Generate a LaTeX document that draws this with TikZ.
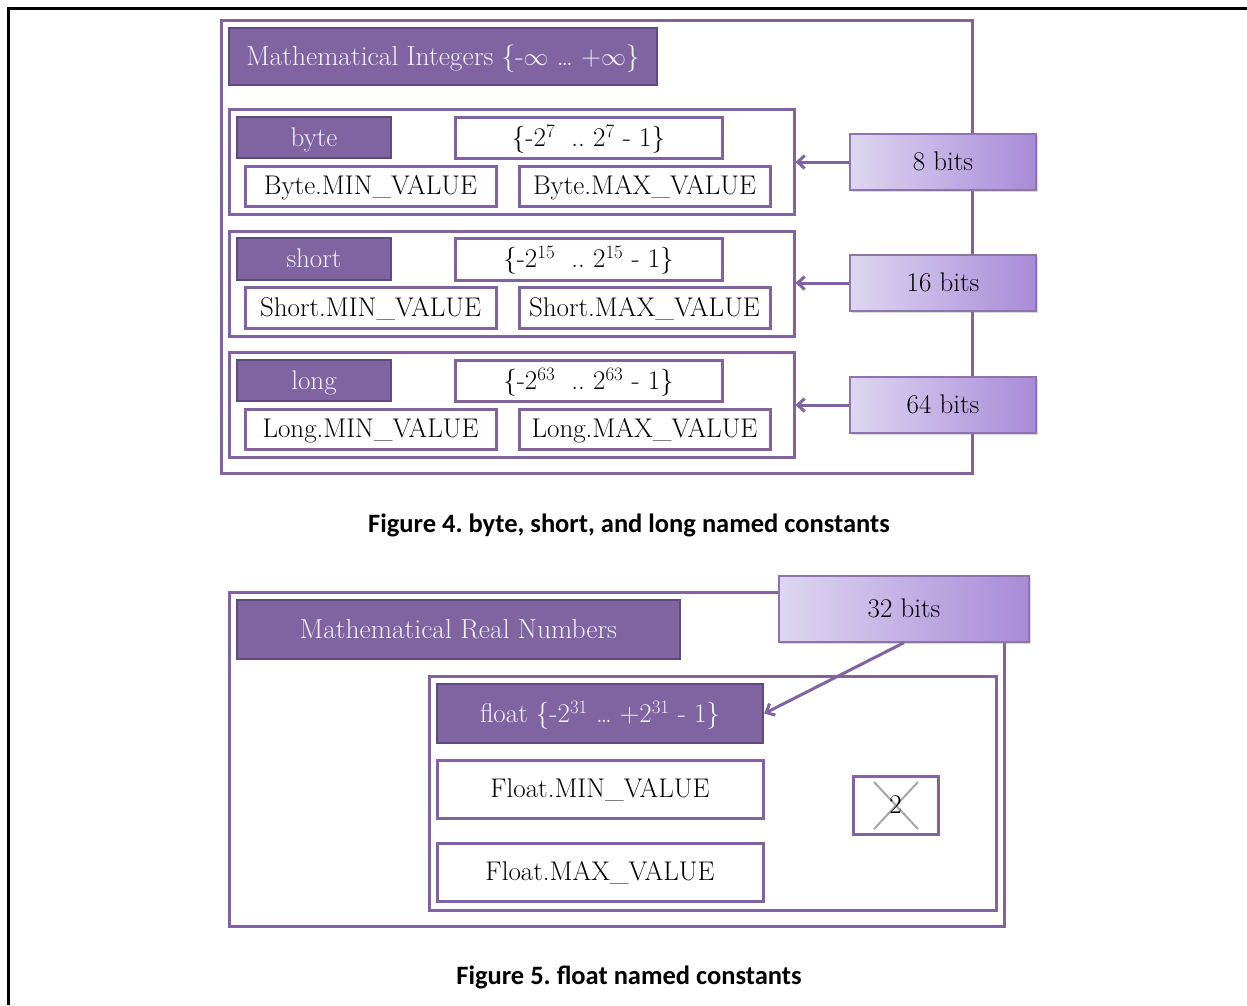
\documentclass[tikz,border=0pt]{standalone}
\usepackage{fontspec}
\newfontfamily\capfont{Carlito}
\usetikzlibrary{arrows.meta,shadows}
\definecolor{pfill}{HTML}{8064A2}
\definecolor{pdark}{HTML}{5F4A7E}
\definecolor{pline}{HTML}{8064A2}
\definecolor{gleft}{HTML}{DED6F1}
\definecolor{gright}{HTML}{A88BD8}
\definecolor{txtlight}{HTML}{F4F2F8}
\newcommand\bx[7]{\node[#2,minimum width={#5-#3},minimum height={#6-#4}] (#1) at ({(#3+#5)/2},{(#4+#6)/2}) {#7};}
\newcommand\bodyfont{\fontsize{27}{32}\selectfont}
\newcommand\titlefont{\fontsize{27.5}{33}\selectfont}
\newcommand\sups[1]{\textsuperscript{#1}}
\frenchspacing
\begin{document}
\begin{tikzpicture}[x=1pt,y=-1pt,
  ctext/.style={text height=17.5pt, text depth=0pt},
  lbl/.style={draw=pdark, fill=pfill, line width=2.5pt, text=txtlight, inner sep=0pt, font=\bodyfont, ctext},
  ttl/.style={lbl, font=\titlefont},
  wbox/.style={draw=pline, line width=3pt, fill=white, inner sep=0pt, font=\bodyfont, ctext},
  grp/.style={draw=pline, line width=3pt, inner sep=0pt},
  bitsbox/.style={draw=pline!90, line width=1.3pt, left color=gleft, right color=gright, inner sep=0pt, font=\bodyfont, ctext,
    drop shadow={shadow xshift=1.5pt, shadow yshift=-1.5pt, opacity=0.3}},
  arr/.style={-{Straight Barb[length=7pt,width=13pt]}, draw=pline, line width=3pt},
  caption/.style={font=\capfont\bfseries\fontsize{26.5}{31}\selectfont, inner sep=0pt}
]
\useasboundingbox (0,0) rectangle (1247,1005);
% page frame
\draw[line width=3pt] (8,1005) -- (8,8) -- (1247,8);

% ---------------- Figure 4 ----------------
\bx{o1}{grp}{221}{20}{972}{473}{}
\bx{t1}{ttl}{229}{28}{657}{85}{Mathematical Integers \{-$\infty$ \dots{} +$\infty$\}}

\bx{g1}{grp}{229}{109}{794}{214}{}
\bx{byte}{lbl}{237}{117}{391}{158}{byte}
\bx{brng}{wbox}{455}{117}{722}{158}{\{-2\sups{7}\ \ .. 2\sups{7} - 1\}}
\bx{bmin}{wbox}{245}{166}{496}{206}{Byte.MIN\_VALUE}
\bx{bmax}{wbox}{519}{166}{770}{206}{Byte.MAX\_VALUE}

\bx{g2}{grp}{229}{231}{794}{336}{}
\bx{short}{lbl}{237}{238}{391}{280}{short}
\bx{srng}{wbox}{455}{238}{722}{280}{\{-2\sups{15}\ \ .. 2\sups{15} - 1\}}
\bx{smin}{wbox}{245}{287}{496}{328}{Short.MIN\_VALUE}
\bx{smax}{wbox}{519}{287}{770}{328}{Short.MAX\_VALUE}

\bx{g3}{grp}{229}{352}{794}{457}{}
\bx{long}{lbl}{237}{360}{391}{401}{long}
\bx{lrng}{wbox}{455}{360}{722}{401}{\{-2\sups{63}\ \ .. 2\sups{63} - 1\}}
\bx{lmin}{wbox}{245}{409}{496}{449}{Long.MIN\_VALUE}
\bx{lmax}{wbox}{519}{409}{770}{449}{Long.MAX\_VALUE}

\bx{b8}{bitsbox}{850}{134}{1036}{190}{8 bits}
\bx{b16}{bitsbox}{850}{255}{1036}{311}{16 bits}
\bx{b64}{bitsbox}{850}{377}{1036}{433}{64 bits}

\draw[arr] (b8.west) -- (b8.west -| g1.east);
\draw[arr] (b16.west) -- (b16.west -| g2.east);
\draw[arr] (b64.west) -- (b64.west -| g3.east);

\node[caption] (cap4) at (629,525) {Figure 4. byte, short, and long named constants};

% ---------------- Figure 5 ----------------
\bx{o2}{grp}{229}{592}{1004}{926}{}
\bx{t2}{ttl}{237}{600}{680}{659}{Mathematical Real Numbers}
\bx{in2}{grp}{429}{676}{996}{910}{}
\bx{flt}{lbl}{437}{684}{763}{743}{float \{-2\sups{31} \dots{} +2\sups{31} - 1\}}
\bx{fmin}{wbox}{437}{760}{763}{818}{Float.MIN\_VALUE}
\bx{fmax}{wbox}{437}{843}{763}{901}{Float.MAX\_VALUE}
\bx{xb}{wbox}{853}{776}{938}{834}{}
\draw[gray!70, line width=2pt] (874,782) -- (918,829) (918,782) -- (874,829);
\node[font=\bodyfont, inner sep=0pt, ctext] (two) at (xb.center) {2};
\bx{b32}{bitsbox}{779}{576}{1029}{642}{32 bits}
\draw[arr] (b32.south) -- (flt.east);

\node[caption] (cap5) at (629,977) {Figure 5. float named constants};
\end{tikzpicture}
\end{document}
